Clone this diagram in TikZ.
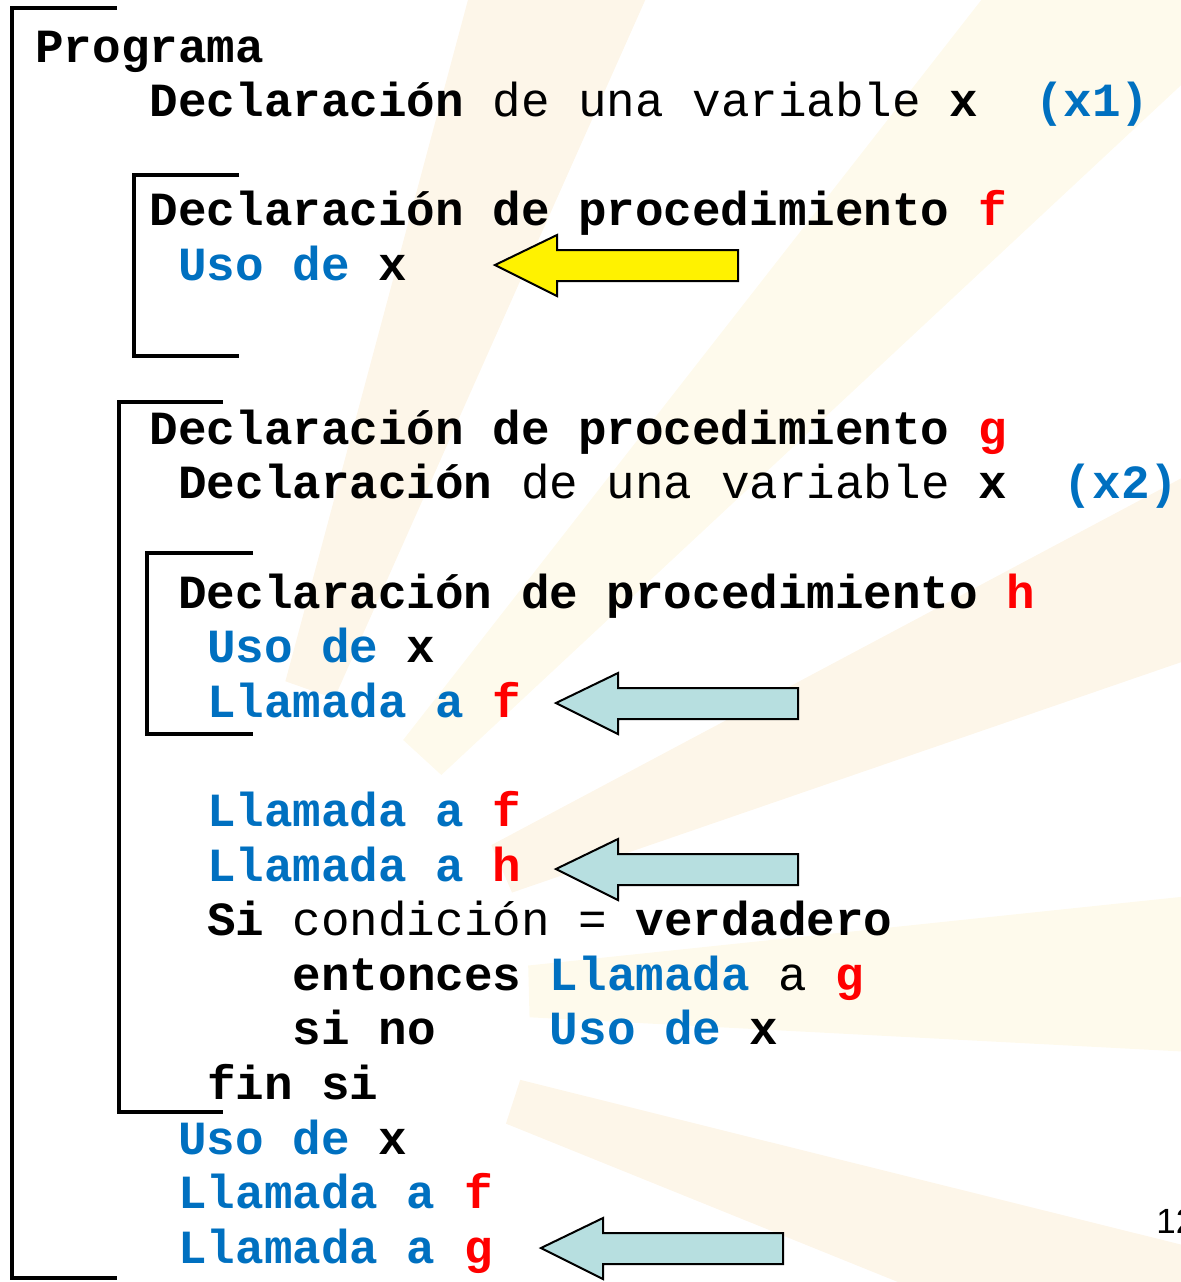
\documentclass[tikz,border=0pt]{standalone}
\usepackage{fontspec}
\setmonofont{Liberation Mono}
\setsansfont{Liberation Sans}
\usetikzlibrary{positioning}

\definecolor{kwblue}{HTML}{0070C0}
\definecolor{kwred}{HTML}{FF0000}
\definecolor{callcyan}{HTML}{B7DFE0}
\definecolor{rayorange}{HTML}{F6D49A}
\definecolor{rayyellow}{HTML}{FBE7A8}

\newcommand\codefont{\fontsize{23.8}{27}\selectfont\ttfamily\bfseries}
\newcommand\kw[1]{\textcolor{kwblue}{#1}}
\newcommand\nm[1]{\textcolor{kwred}{#1}}
\newcommand\plain[1]{{\mdseries #1}}

\begin{document}
\begin{tikzpicture}[
    x=0.5pt, y=-0.5pt,
    codeline/.style={anchor=base west, inner sep=0pt, font=\codefont},
    bracket/.style={line width=2pt},
    callarrow/.style={draw=black, line width=1pt, line join=miter, fill=#1},
    ray/.style={fill=#1, opacity=0.22, draw=none}
]
\useasboundingbox (0,0) rectangle (1181,1282);

% --- faint sunburst in the background ---
\begin{scope}[shift={(200,1000)}]
    \fill[ray=rayorange] (-75:330) -- (-75:1500) -- (-66:1500) -- (-66:330) -- cycle;
    \fill[ray=rayyellow] (-52:330) -- (-52:1500) -- (-43:1500) -- (-43:330) -- cycle;
    \fill[ray=rayorange] (-28:330) -- (-28:1500) -- (-19:1500) -- (-19:330) -- cycle;
    \fill[ray=rayyellow] (-6:330)  -- (-6:1500)  -- (3:1500)   -- (3:330)   -- cycle;
    \fill[ray=rayorange] (14:330)  -- (14:1500)  -- (22:1500)  -- (22:330)  -- cycle;
\end{scope}

% --- brackets ---
\draw[bracket] (117,8)   -- (12,8)   -- (12,1278)  -- (117,1278);  % programa
\draw[bracket] (239,175) -- (134,175) -- (134,356) -- (239,356);   % f
\draw[bracket] (223,402) -- (119,402) -- (119,1112) -- (223,1112); % g
\draw[bracket] (253,553) -- (147,553) -- (147,734) -- (253,734);   % h

% --- program text ---
\node[codeline] (prog)     at (35,62)       {Programa};
\node[codeline] (declxa)   at (149.4,116.6) {Declaración \plain{de una variable} x~~\kw{(x1)}};
\node[codeline] (procf)    at (149.4,225.8) {Declaración de procedimiento \nm{f}};
\node[codeline] (usof)     at (178,280.4)   {\kw{Uso de} x};
\node[codeline] (procg)    at (149.4,444.2) {Declaración de procedimiento \nm{g}};
\node[codeline] (declxb)   at (178,498.8)   {Declaración \plain{de una variable} x~~\kw{(x2)}};
\node[codeline] (proch)    at (178,608)     {Declaración de procedimiento \nm{h}};
\node[codeline] (usoh)     at (206.6,662.6) {\kw{Uso de} x};
\node[codeline] (callhf)   at (206.6,717.2) {\kw{Llamada a} \nm{f}};
\node[codeline] (callgf)   at (206.6,826.4) {\kw{Llamada a} \nm{f}};
\node[codeline] (callgh)   at (206.6,881)   {\kw{Llamada a} \nm{h}};
\node[codeline] (si)       at (206.6,935.6) {Si \plain{condición =} verdadero};
\node[codeline] (entonces) at (292.4,990.2) {entonces \kw{Llamada} \plain{a} \nm{g}};
\node[codeline] (sino)     at (292.4,1044.8) {si no~~~~\kw{Uso de} x};
\node[codeline] (finsi)    at (206.6,1099.4) {fin si};
\node[codeline] (usom)     at (178,1154)    {\kw{Uso de} x};
\node[codeline] (callmf)   at (178,1208.6)  {\kw{Llamada a} \nm{f}};
\node[codeline] (callmg)   at (178,1263.2)  {\kw{Llamada a} \nm{g}};

% --- page number (cut by the edge) ---
\node[anchor=base west, inner sep=0pt, font=\fontsize{17.5}{20}\selectfont\sffamily] (page) at (1156,1233) {12};

% --- block arrows ---
\draw[callarrow=yellow]   (495,265)  -- ++(62,-30) -- ++(0,15) -- ++(181,0) -- ++(0,31) -- ++(-181,0) -- ++(0,15) -- cycle;
\draw[callarrow=callcyan] (556,703)  -- ++(62,-30) -- ++(0,15) -- ++(180,0) -- ++(0,31) -- ++(-180,0) -- ++(0,15) -- cycle;
\draw[callarrow=callcyan] (556,869)  -- ++(62,-30) -- ++(0,15) -- ++(180,0) -- ++(0,31) -- ++(-180,0) -- ++(0,15) -- cycle;
\draw[callarrow=callcyan] (541,1248) -- ++(62,-30) -- ++(0,15) -- ++(180,0) -- ++(0,31) -- ++(-180,0) -- ++(0,15) -- cycle;

\end{tikzpicture}
\end{document}
